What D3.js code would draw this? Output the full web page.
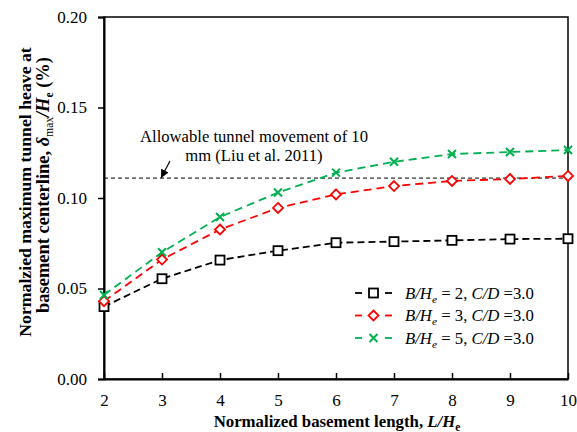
<!DOCTYPE html>
<html><head><meta charset="utf-8">
<script src="https://cdn.jsdelivr.net/npm/d3@7"></script>
<style>body{margin:0;background:#fff}svg, svg text{font-family:"Liberation Serif","Times New Roman",serif}</style>
</head><body>
<svg id="c" width="577" height="432"></svg>
<script>
const xValues = [2, 3, 4, 5, 6, 7, 8, 9, 10];
const seriesB2 = [0.040, 0.0554, 0.0657, 0.0709, 0.0753, 0.0759, 0.0766, 0.0773, 0.0775];
const seriesB3 = [0.043, 0.066, 0.0826, 0.0945, 0.102, 0.1066, 0.1094, 0.1105, 0.1122];
const seriesB5 = [0.0464, 0.070, 0.0895, 0.103, 0.114, 0.120, 0.1243, 0.1254, 0.1265];
const seriesLabels = ["2", "3", "5"];
const allowable = 0.111;
const yTicks = [0, 0.05, 0.10, 0.15, 0.20];
const xTicks = [2, 3, 4, 5, 6, 7, 8, 9, 10];
const annotationLines = ["Allowable tunnel movement of 10", "mm (Liu et al. 2011)"];

const svg = d3.select("#c");
const L = 104, R = 568, T = 17, B = 379;
const x = d3.scaleLinear().domain([2, 10]).range([L, R]);
const y = d3.scaleLinear().domain([0, 0.20]).range([B, T]);

// scale a text's font size so its width matches a target width
function fitWidth(sel, target) {
  const fs = parseFloat(sel.attr("font-size"));
  const w = sel.node().getBBox().width;
  if (w > 0) sel.attr("font-size", fs * target / w);
}

// frame
svg.append("rect").attr("x", L).attr("y", T).attr("width", R - L).attr("height", B - T)
  .attr("fill", "none").attr("stroke", "#000").attr("stroke-width", 1.5);

// y axis
const ya = svg.append("g").attr("transform", `translate(${L},0)`)
  .call(d3.axisLeft(y).tickValues(yTicks).tickFormat(d3.format(".2f")).tickSize(6).tickPadding(11));
ya.attr("font-family", null);
ya.select(".domain").attr("stroke-width", 2);
ya.selectAll(".tick line").attr("stroke-width", 1.5);
ya.selectAll("text").attr("font-size", 17).attr("fill", "#000");

// x axis (ticks inward)
const xa = svg.append("g").attr("transform", `translate(0,${B})`)
  .call(d3.axisBottom(x).tickValues(xTicks).tickFormat(d3.format("d")).tickSizeInner(-6).tickSizeOuter(0).tickPadding(15));
xa.attr("font-family", null);
xa.select(".domain").attr("stroke-width", 2);
xa.selectAll(".tick line").attr("stroke-width", 1.5);
xa.selectAll("text").attr("font-size", 17).attr("fill", "#000");

// allowable line
svg.append("line").attr("x1", x(2)).attr("x2", x(10)).attr("y1", y(allowable)).attr("y2", y(allowable))
  .attr("stroke", "#000").attr("stroke-width", 1).attr("stroke-dasharray", "4,3");

// annotation
const ann1 = svg.append("text").attr("x", 254).attr("y", 142).attr("font-size", 16)
  .attr("text-anchor", "middle").attr("fill", "#000").text(annotationLines[0]);
fitWidth(ann1, 228);
svg.append("text").attr("x", 254).attr("y", 161).attr("font-size", ann1.attr("font-size"))
  .attr("text-anchor", "middle").attr("fill", "#000").text(annotationLines[1]);
svg.append("defs").append("marker").attr("id", "ah").attr("viewBox", "0 0 10 10").attr("refX", 10).attr("refY", 5)
  .attr("markerWidth", 7).attr("markerHeight", 7).attr("orient", "auto-start-reverse")
  .append("path").attr("d", "M0,0L10,5L0,10z").attr("fill", "#000");
svg.append("line").attr("x1", 170).attr("y1", 161).attr("x2", 161).attr("y2", y(allowable))
  .attr("stroke", "#000").attr("stroke-width", 1.2).attr("marker-end", "url(#ah)");

const series = [
  {vals: seriesB2, color: "#000000", marker: "square", dash: "7,4"},
  {vals: seriesB3, color: "#ff0000", marker: "diamond", dash: "8,5"},
  {vals: seriesB5, color: "#00b050", marker: "cross", dash: "8,5"}
];
const line = d3.line().x((d, i) => x(xValues[i])).y(d => y(d));

function drawMarker(g, type, color, cx, cy) {
  if (type === "square") {
    g.append("rect").attr("x", cx - 4.5).attr("y", cy - 4.5).attr("width", 9).attr("height", 9)
      .attr("fill", "#fff").attr("stroke", color).attr("stroke-width", 1.8);
  } else if (type === "diamond") {
    g.append("path").attr("d", `M${cx},${cy - 5}L${cx + 5},${cy}L${cx},${cy + 5}L${cx - 5},${cy}Z`)
      .attr("fill", "#fff").attr("stroke", color).attr("stroke-width", 1.8);
  } else {
    g.append("path").attr("d", `M${cx - 4},${cy - 4}L${cx + 4},${cy + 4}M${cx - 4},${cy + 4}L${cx + 4},${cy - 4}`)
      .attr("fill", "none").attr("stroke", color).attr("stroke-width", 2);
  }
}

series.forEach(s => {
  svg.append("path").datum(s.vals).attr("d", line).attr("fill", "none")
    .attr("stroke", s.color).attr("stroke-width", 1.8).attr("stroke-dasharray", s.dash);
  const g = svg.append("g");
  s.vals.forEach((v, i) => drawMarker(g, s.marker, s.color, x(xValues[i]), y(v)));
});

// legend
series.forEach((s, i) => {
  const cy = 293 + i * 22.5;
  svg.append("line").attr("x1", 355).attr("x2", 362).attr("y1", cy).attr("y2", cy).attr("stroke", s.color).attr("stroke-width", 1.8);
  svg.append("line").attr("x1", 385).attr("x2", 392).attr("y1", cy).attr("y2", cy).attr("stroke", s.color).attr("stroke-width", 1.8);
  drawMarker(svg.append("g"), s.marker, s.color, 373.5, cy);
  const t = svg.append("text").attr("x", 405).attr("y", cy + 5.5).attr("font-size", 16).attr("fill", "#000");
  t.append("tspan").attr("font-style", "italic").text("B/H");
  t.append("tspan").attr("font-style", "italic").style("font-size", "0.68em").attr("dy", 4).text("e");
  t.append("tspan").attr("dy", -4).text(` = ${seriesLabels[i]}, `);
  t.append("tspan").attr("font-style", "italic").text("C/D");
  t.append("tspan").text(" =3.0");
  fitWidth(t, 129);
});

// x title
const xt = svg.append("text").attr("x", 337).attr("y", 427).attr("text-anchor", "middle")
  .attr("font-size", 16.5).attr("font-weight", "bold").attr("fill", "#000");
xt.append("tspan").text("Normalized basement length, ");
xt.append("tspan").attr("font-style", "italic").text("L/H");
xt.append("tspan").style("font-size", "0.68em").attr("dy", 4).text("e");
fitWidth(xt, 247);

// y title
const yt = svg.append("g").attr("transform", "rotate(-90)");
const y1t = yt.append("text").attr("x", -192).attr("y", 31).attr("text-anchor", "middle").attr("font-size", 17)
  .attr("font-weight", "bold").attr("fill", "#000").text("Normalzied maximum tunnel heave at");
fitWidth(y1t, 290);
const y2t = yt.append("text").attr("x", -185).attr("y", 49).attr("text-anchor", "middle").attr("font-size", 17)
  .attr("font-weight", "bold").attr("fill", "#000");
y2t.append("tspan").text("basement centerline, ");
y2t.append("tspan").attr("font-style", "italic").text("δ");
y2t.append("tspan").style("font-size", "0.62em").attr("font-weight", "normal").attr("dy", 4).text("max");
y2t.append("tspan").attr("font-style", "italic").attr("dy", -4).text("/H");
y2t.append("tspan").style("font-size", "0.62em").attr("dy", 4).text("e");
y2t.append("tspan").attr("dy", -4).text(" (%)");
fitWidth(y2t, 256);
</script>
</body></html>
